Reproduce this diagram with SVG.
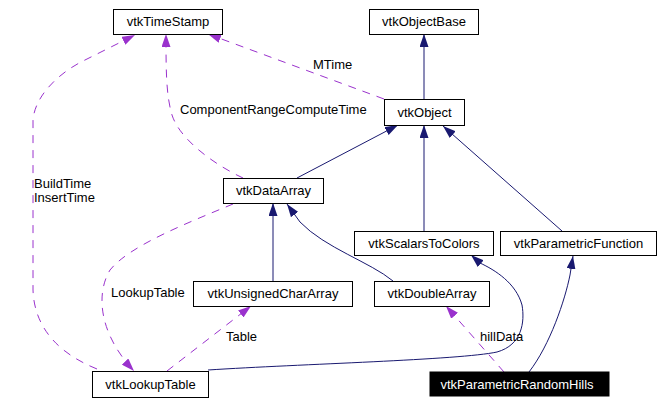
<svg xmlns="http://www.w3.org/2000/svg" width="662" height="404" viewBox="0 0 662 404">
<style>
.n rect{fill:#fff;stroke:#000;stroke-width:1}
.n text{font-family:"Liberation Sans",Arial,sans-serif;font-size:13px;text-anchor:middle;fill:#000}
.hl rect{fill:#000}
.hl text{fill:#fff}
.e path{fill:none;stroke-width:1}
.inh{stroke:#191970;marker-end:url(#an)}
.use{stroke:#9a32cd;stroke-dasharray:8,7;marker-end:url(#ap)}
.lbl{font-family:"Liberation Sans",Arial,sans-serif;font-size:13px;fill:#000}
</style>
<defs>
<marker id="an" viewBox="0 0 13 9" refX="13" refY="4.5" markerWidth="13" markerHeight="9" markerUnits="userSpaceOnUse" orient="auto"><path d="M0,0 L13,4.5 L0,9 z" fill="#191970" stroke="none"/></marker>
<marker id="ap" viewBox="0 0 13 9" refX="13" refY="4.5" markerWidth="13" markerHeight="9" markerUnits="userSpaceOnUse" orient="auto"><path d="M0,0 L13,4.5 L0,9 z" fill="#9a32cd" stroke="none"/></marker>
</defs>
<rect width="662" height="404" fill="#fff"/>
<g id="edges" class="e">
<path class="inh" d="M424,99 L424,34"/>
<path class="inh" d="M297,178 L398,125"/>
<path class="inh" d="M424,231 L424,125"/>
<path class="inh" d="M562,231 L443,126"/>
<path class="inh" d="M273,281 L273,203"/>
<path class="inh" d="M393,281 C370,262 325,248 300,222 L287,204"/>
<path class="inh" d="M208,370 C300,364 460,360 497,352 C522,345 525,322 522,305 C516,283 495,270 480,263 L471,255"/>
<path class="inh" d="M529,372 C550,345 565,300 570,275 L573,256"/>
<path class="use" d="M384,99 L208,34"/>
<path class="use" d="M243,178 C215,165 180,140 172,115 C166,95 166,70 166,34"/>
<path class="use" d="M97,369 C50,350 34,320 33,290 L33,120 C35,95 60,72 85,60 L135,35"/>
<path class="use" d="M233,204 C190,222 130,245 110,270 C95,295 100,335 134,371"/>
<path class="use" d="M167,371 L251,306"/>
<path class="use" d="M504,372 L446,306"/>
<text class="lbl" x="313" y="69">MTime</text>
<text class="lbl" x="180" y="114">ComponentRangeComputeTime</text>
<text class="lbl" x="34" y="188">BuildTime</text>
<text class="lbl" x="34" y="202">InsertTime</text>
<text class="lbl" x="111" y="297">LookupTable</text>
<text class="lbl" x="226" y="341">Table</text>
<text class="lbl" x="480" y="341">hillData</text>
</g>
<g id="vtkTimeStamp" class="n"><rect x="113.5" y="9.5" width="109" height="25"/><text x="168" y="26">vtkTimeStamp</text></g>
<g id="vtkObjectBase" class="n"><rect x="369.5" y="9.5" width="109" height="25"/><text x="424" y="26">vtkObjectBase</text></g>
<g id="vtkObject" class="n"><rect x="384.5" y="99.5" width="80" height="26"/><text x="424.5" y="117">vtkObject</text></g>
<g id="vtkDataArray" class="n"><rect x="223.5" y="178.5" width="100" height="25"/><text x="273.5" y="195">vtkDataArray</text></g>
<g id="vtkScalarsToColors" class="n"><rect x="354.5" y="231.5" width="139" height="24"/><text x="424" y="248">vtkScalarsToColors</text></g>
<g id="vtkParametricFunction" class="n"><rect x="500.5" y="231.5" width="156" height="24"/><text x="578.5" y="248">vtkParametricFunction</text></g>
<g id="vtkUnsignedCharArray" class="n"><rect x="193.5" y="281.5" width="159" height="25"/><text x="273" y="298">vtkUnsignedCharArray</text></g>
<g id="vtkDoubleArray" class="n"><rect x="374.5" y="281.5" width="115" height="25"/><text x="432" y="298">vtkDoubleArray</text></g>
<g id="vtkLookupTable" class="n"><rect x="92.5" y="371.5" width="116" height="26"/><text x="150.5" y="389">vtkLookupTable</text></g>
<g id="vtkParametricRandomHills" class="n hl"><rect x="430" y="372" width="179" height="24"/><text x="517" y="389">vtkParametricRandomHills</text></g>
</svg>
